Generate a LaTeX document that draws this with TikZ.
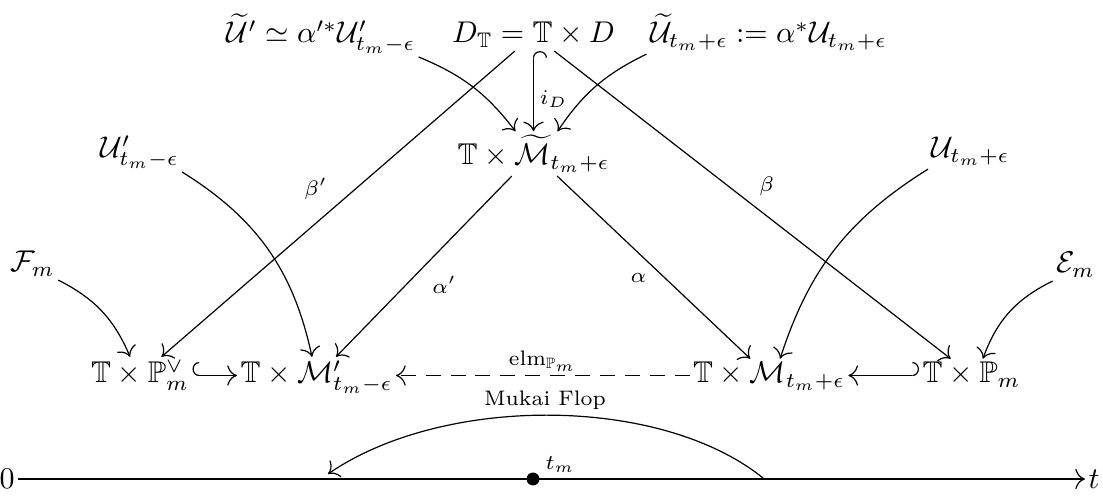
\documentclass[tikz,border=0pt]{standalone}
\usepackage{amsmath,amssymb}
\usetikzlibrary{arrows.meta,calc}
\begin{document}
\begin{tikzpicture}[x=0.33333pt,y=-0.33333pt,
  obj/.style={inner sep=1pt, anchor=base},
  lab/.style={inner sep=1pt, font=\scriptsize},
  tipx/.tip={Computer Modern Rightarrow[scale=1.3]},
  hk/.tip={Hooks[right, width=9pt, length=2.2pt]},
  hkl/.tip={Hooks[left, width=9pt, length=2.2pt]},
  ar/.style={-tipx, line width=0.4pt},
  hookar/.style={hk-tipx, line width=0.4pt},
  hookarl/.style={hkl-tipx, line width=0.4pt},
  dashar/.style={-tipx, line width=0.4pt, dash pattern=on 5pt off 3.3pt}]
\useasboundingbox (0,0) rectangle (1103,496);
% top row
\node[obj] (A1) at (321,43) {$\widetilde{\mathcal U}'\simeq\alpha'^*\mathcal U'_{t_m-\epsilon}$};
\node[obj] (A2) at (533.5,43) {$D_{\mathbb T}=\mathbb T\times D$};
\node[obj] (A3) at (768.5,43) {$\widetilde{\mathcal U}_{t_m+\epsilon}:=\alpha^*\mathcal U_{t_m+\epsilon}$};
% middle
\node[obj] (B) at (533.5,165) {$\mathbb T\times\widetilde{\mathcal M}_{t_m+\epsilon}$};
\node[obj] (Up) at (139.5,158) {$\mathcal U'_{t_m-\epsilon}$};
\node[obj] (U) at (970.5,158) {$\mathcal U_{t_m+\epsilon}$};
\node[obj] (F) at (32.5,272) {$\mathcal F_m$};
\node[obj] (E) at (1075.5,273) {$\mathcal E_m$};
% bottom row
\node[obj] (C1) at (140,383) {$\mathbb T\times\mathbb P_m^\vee$};
\node[obj] (C2) at (316.5,383) {$\mathbb T\times\mathcal M'_{t_m-\epsilon}$};
\node[obj] (C3) at (769,383) {$\mathbb T\times\mathcal M_{t_m+\epsilon}$};
\node[obj] (C4) at (971.5,383) {$\mathbb T\times\mathbb P_m$};
% straight maps
\draw[ar] (A2) -- node[lab, pos=0.45, shift={(-40,0)}] (lbp) {$\beta'$} (C1);
\draw[ar] (A2) -- node[lab, pos=0.44, shift={(38,0)}] (lb) {$\beta$} (C4);
\draw[ar] (B) -- node[lab, pos=0.6, shift={(38,0)}] (lap) {$\alpha'$} (C2);
\draw[ar] (B) -- node[lab, pos=0.56, shift={(-27,0)}] (la) {$\alpha$} (C3);
\draw[hookar] (A2) -- node[lab, pos=0.6, shift={(20,0)}] (lid) {$i_D$} (B);
% horizontal maps
\draw[hookar] ([yshift=2.5pt]C1.base east) -- ([yshift=2.5pt]C2.base west);
\draw[hookarl] ([yshift=2.5pt]C4.base west) -- ([yshift=2.5pt]C3.base east);
\draw[dashar] ([yshift=2.5pt]C3.base west) -- node[lab, above] (lelm) {$\mathrm{elm}_{\mathbb P_m}$} ([yshift=2.5pt]C2.base east);
% curved maps
\draw[ar] (A1.south east) to[bend left=15] ([xshift=-6pt]B.north);
\draw[ar] (A3.south west) to[bend right=15] ([xshift=8pt]B.north);
\draw[ar] (Up.south east) to[bend left=23] ([xshift=-1.5pt]C2.north);
\draw[ar] (F.south east) to[bend left=20] ([xshift=-3.3pt]C1.north);
\draw[ar] (U.south west) to[bend right=20] ([xshift=3.7pt]C3.north);
\draw[ar] (E.south west) to[bend right=22] ([xshift=3.8pt]C4.north);
% time axis
\node[inner sep=1pt] (Z) at (7,479) {$0$};
\node[inner sep=1pt] (T) at (1094,479) {$t$};
\draw[ar] (Z) -- (T);
\node[circle, fill, inner sep=0pt, minimum size=4.3pt] (dot) at (533,479) {};
\node[inner sep=1pt] (tm) at (560,465) {$\scriptstyle t_m$};
\coordinate (arcR) at (763,478);
\coordinate (arcL) at (328,474);
\draw[ar] (arcR) .. controls (660,395) and (443,395) .. (arcL);
\node[lab] (mf) at (545,400) {Mukai Flop};
\end{tikzpicture}
\end{document}
